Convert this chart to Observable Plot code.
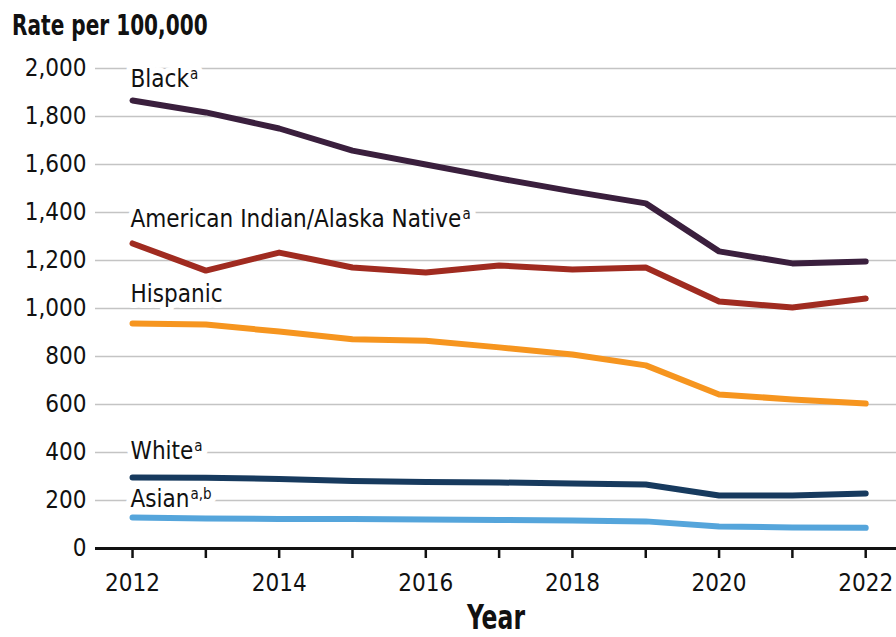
<!DOCTYPE html>
<html>
<head>
<meta charset="utf-8">
<script src="https://cdn.jsdelivr.net/npm/d3@7"></script>
<script src="https://cdn.jsdelivr.net/npm/@observablehq/plot@0.6"></script>
<style>
  html, body { margin: 0; padding: 0; background: #fff; }
  #title { height: 50px; line-height: 50px; padding-left: 12px; font-family: "DejaVu Sans Condensed", "DejaVu Sans", sans-serif; font-weight: bold; font-size: 29px; color: #111; white-space: nowrap; }
  #title span { display: inline-block; transform: scaleX(0.77); transform-origin: left center; }
</style>
</head>
<body>
<div id="title"><span>Rate per 100,000</span></div>
<div id="chart"></div>
<script>
const years = [2012, 2013, 2014, 2015, 2016, 2017, 2018, 2019, 2020, 2021, 2022];
const seriesNames = ["Black", "American Indian/Alaska Native", "Hispanic", "White", "Asian"];
const seriesNotes = ["a", "a", "", "a", "a,b"];
const seriesColors = ["#3a1f3d", "#a02b20", "#f6951f", "#173a5e", "#55a5db"];
const labelValues = [1954, 1371, 1058, 404, 204];

const black    = [1867, 1817, 1750, 1658, 1600, 1542, 1488, 1438, 1238, 1188, 1196];
const aian     = [1271, 1158, 1233, 1171, 1150, 1179, 1163, 1171, 1029, 1004, 1042];
const hispanic = [938, 933, 904, 872, 866, 838, 808, 763, 642, 621, 604];
const white    = [296, 295, 290, 281, 277, 275, 271, 267, 221, 221, 229];
const asian    = [129, 125, 123, 123, 121, 119, 117, 113, 92, 88, 86];

const yTicks = [0, 200, 400, 600, 800, 1000, 1200, 1400, 1600, 1800, 2000];
const xLabelYears = [2012, 2014, 2016, 2018, 2020, 2022];

const allSeries = [black, aian, hispanic, white, asian];
const rows = [];
allSeries.forEach((vals, i) => vals.forEach((v, j) => rows.push({series: seriesNames[i], year: years[j], value: v})));
const labels = seriesNames.map((name, i) => ({name, note: seriesNotes[i], year: years[0], value: labelValues[i]}));

const regFont = "'DejaVu Sans Condensed', 'DejaVu Sans', sans-serif";

const plot = Plot.plot({
  width: 896,
  height: 587,
  marginTop: 18,
  marginBottom: 89,
  marginLeft: 95,
  marginRight: 0,
  style: {fontFamily: regFont, fontSize: "24px", color: "#111", background: "#fff"},
  x: {domain: [2011.495, 2022.42], label: null},
  y: {domain: [0, 2000], label: null},
  color: {domain: seriesNames, range: seriesColors},
  marks: [
    Plot.gridY(yTicks, {stroke: "#c4c4c4", strokeOpacity: 1, strokeWidth: 1.6}),
    Plot.axisY(yTicks, {tickSize: 0, tickPadding: 9, tickFormat: d3.format(","), fontSize: 24, fill: "#111"}),
    Plot.axisX(years, {tickSize: 10, tickPadding: 15, strokeWidth: 2.5, stroke: "#111", fontSize: 24, fill: "#111",
      tickFormat: d => xLabelYears.includes(d) ? String(d) : ""}),
    Plot.ruleY([0], {stroke: "#111", strokeWidth: 3}),
    // white knock-out behind the labels
    Plot.text(labels, {x: "year", y: "value", text: "name", textAnchor: "start", dx: -2, fontSize: 24,
      fill: "white", stroke: "white", strokeWidth: 12}),
    Plot.text(labels, {x: "year", y: "value", text: "name", textAnchor: "start", dx: -2, fontSize: 24,
      fill: "#111"}),
    Plot.line(rows, {x: "year", y: "value", z: "series", stroke: "series", strokeWidth: 6,
      strokeLinecap: "round", strokeLinejoin: "round"}),
    Plot.text(["Year"], {frameAnchor: "bottom", dy: 80, fontSize: 33, fontWeight: "bold", fill: "#111"})
  ]
});

// add superscript notes to the series labels, and narrow the axis title
plot.querySelectorAll("text").forEach(t => {
  const s = t.textContent;
  const i = seriesNames.indexOf(s);
  if (i >= 0 && seriesNotes[i]) {
    const ts = document.createElementNS("http://www.w3.org/2000/svg", "tspan");
    ts.setAttribute("dy", "-8");
    ts.setAttribute("dx", "1");
    ts.setAttribute("font-size", "15");
    ts.textContent = seriesNotes[i];
    t.appendChild(ts);
  }
  if (s === "Year") {
    t.setAttribute("textLength", "58");
    t.setAttribute("lengthAdjust", "spacingAndGlyphs");
  }
});

document.getElementById("chart").appendChild(plot);
</script>
</body>
</html>
